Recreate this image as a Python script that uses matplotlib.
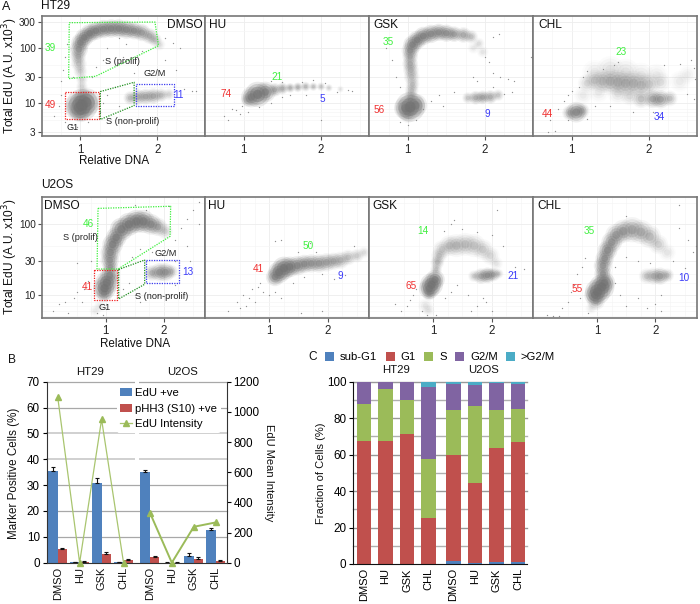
import matplotlib
matplotlib.use("Agg")
import matplotlib.pyplot as plt
import numpy as np
from matplotlib.ticker import NullFormatter, FixedLocator

plt.rcParams['font.family'] = ['Liberation Sans', 'DejaVu Sans']
W, H = 700, 604

# ---------- Panel A: hand-read density clouds (x, EdU, radius px, density) ----------
ht29_dmso_blobs = [(1.02,9.3,11,1.0),(0.98,8.5,9,.9),(1.08,10.5,9,.9),(1.0,7,6,.5),(1.03,13,5,.4),
 (1.02,20,3,.25),(1.02,27,3,.25),(1.0,38,3.5,.3),(0.98,52,4,.4),(0.97,70,4,.5),(0.98,95,5,.7),(1.0,125,5,.8),
 (1.05,155,5,.9),(1.12,185,5,.9),(1.2,205,5,.9),(1.3,220,5,.9),(1.4,225,5,.9),(1.5,225,5,.9),(1.6,215,5,.85),
 (1.7,205,4.5,.8),(1.8,190,4.5,.7),(1.9,165,4,.55),(1.97,140,3.5,.4),(2.03,115,3,.2),
 (1.65,12.5,3.5,.45),(1.75,13,4,.55),(1.85,13.2,4,.6),(1.95,13.5,4,.6),(2.05,14,3.5,.45),(2.15,14.5,3,.25)]
ht29_dmso_stray = [(.65,6),(.72,9),(.75,14),(.8,4.5),(.88,4),(.95,3.8),(1.1,4.5),(1.25,7),(1.3,10),(1.35,14),(1.5,9),(1.45,20),
 (.75,25),(.78,40),(.8,70),(.82,120),(1.2,45),(1.3,60),(1.35,100),(1.5,150),(1.6,120),(1.8,90),(2.1,150),(2.2,125),(2.3,100),
 (2.1,60),(2.25,40),(2.35,18),(2.45,17),(2.5,17),(1.9,40),(1.7,35),(1.15,30),(1.55,70),(.9,30)]
ht29_hu_blobs = [(1.18,14.5,8,1.0),(1.1,13,6,.85),(1.28,16,6,.9),(1.05,11.5,3.5,.45),(1.4,17.5,3.5,.6),(1.5,18.5,3,.55),
 (1.6,19,2.5,.5),(1.7,19.5,2.5,.5),(1.8,20,2.5,.45),(1.9,20,2.2,.4),(2.0,20,2.2,.35),(2.1,19,2,.25),(2.25,18,1.8,.15)]
ht29_hu_stray = [(.75,6),(.8,5),(.85,8),(.9,7.5),(.95,6.5),(.98,9),(1.05,7),(1.2,8.5),(1.35,10),(1.5,13),(1.6,14),(1.35,25),(1.5,24),
 (1.75,24),(1.9,26),(2.05,23),(2.2,16),(2.35,17.5),(2.4,17),(2.0,5),(1.8,14)]
ht29_gsk_blobs = [(1.03,8.6,10,1.0),(.97,8.2,7,.8),(1.1,9.2,7,.8),(1.0,6.5,5,.45),(1.04,13,3.5,.4),(1.05,17,3.5,.4),(1.06,22,3.5,.4),
 (1.05,30,4,.4),(1.04,40,4,.45),(1.03,52,4,.5),(1.03,70,4,.5),(1.03,90,4.5,.65),(1.06,115,5,.85),(1.12,140,5,.9),(1.2,165,5,.9),
 (1.3,180,5,.85),(1.4,192,4.5,.8),(1.5,185,4.5,.8),(1.6,178,4,.7),(1.72,172,4,.6),(1.82,160,3.5,.4),(1.92,120,3,.2),(1.97,85,3,.15),
 (1.85,100,3,.12),(1.78,12.5,3,.35),(1.88,12.6,3.5,.55),(1.97,12.8,3.5,.65),(2.07,13,3.5,.55),(2.17,14,3,.35)]
ht29_gsk_stray = [(.72,100),(.8,60),(.85,30),(.9,20),(1.2,8),(1.3,11),(1.4,14),(1.45,9),(1.6,16),(2.05,55),(2.1,35),(2.2,30),(2.3,28),(2.38,25),
 (2.1,160),(2.18,180),(2.0,70),(2.1,20),(1.9,25),(1.85,30),(2.6,70),(.62,8),(.9,4.5),(1.0,4),(1.1,5),(2.25,15),(2.35,16)]
ht29_chl_blobs = [(1.06,6.9,6,.8),(.98,6.7,4,.5),(1.13,7.3,4,.5),(1.2,23,5,.22),(1.3,26,6,.28),(1.4,25,7,.32),(1.5,25,8,.36),(1.6,24,8,.36),
 (1.7,23,8,.36),(1.8,23,8,.32),(1.9,21,8,.3),(2.0,22,7,.25),(2.15,24,6,.18),(1.6,15,6,.18),(1.75,13.5,5,.22),
 (1.9,12,5,.4),(2.05,12,5,.6),(2.15,11.8,5,.65),(2.27,12.2,4,.4),(2.4,25,6,.1),(2.5,33,5,.08),
 (1.3,36,8,.12),(1.5,40,9,.16),(1.7,36,9,.16),(1.9,32,8,.14),(2.1,32,7,.1),(1.35,16,6,.12),(1.15,14,5,.1)]
ht29_chl_stray = [(.65,6),(.72,5),(.78,3.2),(.7,3),(.82,8),(.9,11),(.95,14),(1.0,17),(1.1,20),(1.15,30),(1.2,38),(1.4,42),(1.55,50),(1.6,55),
 (2.2,50),(2.4,52),(2.55,60),(2.58,44),(2.6,28),(2.5,15),(2.58,12),(1.3,9),(1.5,9),(1.8,7),(2.05,7),(.95,5),(1.2,5.2)]

u2os_dmso_blobs = [(0.98,12.5,7,1.0),(1.02,15,7,1.0),(1.07,19,5.5,.85),(.97,10.5,4.5,.7),(1.08,25,4,.6),(1.07,31,5,.7),(1.08,40,5.5,.8),
 (1.12,52,6,.9),(1.18,65,6,.95),(1.27,85,7,1.0),(1.4,100,7,1.0),(1.53,110,7,.95),(1.65,110,7,.9),(1.78,100,6,.75),(1.9,92,5,.55),(2.02,80,4,.3),
 (1.8,20.5,4,.5),(1.93,21,5,.65),(2.03,21,5,.65),(2.13,21.5,3.5,.4),(.9,7,3,.12),(.82,6,3,.1)]
u2os_dmso_stray = [(.1,6),(.2,7.5),(.3,8),(.35,5.5),(.45,9),(.5,11),(.6,8),(.62,12),(.7,16),(.5,28),(.75,30),(.85,5.5),(.95,5.2),(1.3,12),(1.4,15),(1.5,10),
 (1.6,8),(1.45,35),(1.6,45),(1.8,40),(2.2,60),(2.3,90),(2.4,120),(2.5,160),(2.6,210),(2.4,50),(2.45,30),(2.2,30),(2.6,100),(1.7,160),(1.5,190),(2.1,180),(1.9,10),(2.2,14)]
u2os_hu_blobs = [(1.1,18,5,.8),(1.17,21,6.5,1.0),(1.25,24,7,1.0),(1.35,25,6,.9),(1.48,26,5.5,.75),(1.6,27.5,5,.7),(1.72,28,5,.65),(1.85,28,5,.65),
 (1.98,29,5,.55),(2.1,30,4.5,.5),(2.22,31,4.5,.45),(2.35,34,4,.4),(2.5,36,3.5,.3),(2.62,40,3,.2)]
u2os_hu_stray = [(.45,8),(.5,6.5),(.55,10),(.6,7),(.65,9),(.7,12),(.75,8),(.8,13),(.85,15),(.9,11),(1.0,10),(1.1,11),(1.2,9),(1.4,15),(1.6,18),
 (1.7,55),(1.2,60),(1.1,58),(1.9,20),(2.1,17),(2.3,19),(1.5,40),(1.8,40),(2.45,50),(.3,6),(1.9,6),(1.55,5.5)]
u2os_gsk_blobs = [(.93,12.3,6,.95),(.97,14,7,1.0),(1.03,16.5,5.5,.95),(.93,10.5,3.5,.55),(1.05,23,3,.4),(1.07,29,3.5,.45),(1.1,36,4,.35),
 (1.15,44,5,.3),(1.28,50,6,.32),(1.4,50,7,.35),(1.55,52,7,.32),(1.7,50,7,.3),(1.85,44,6,.28),(1.98,36,5,.22),(2.08,28,3.5,.15),
 (1.7,18.5,3,.3),(1.82,18.5,4,.6),(1.93,19,4,.8),(2.03,19.5,3.5,.6),(2.12,20,2.5,.3),(.87,7,4,.15),(.92,6,3,.12)]
u2os_gsk_stray = [(.35,7.5),(.45,6),(.55,7),(.6,8.5),(.65,10),(.7,12),(.8,6),(.9,5.3),(1.05,5.2),(1.2,9),(1.3,11),(1.4,14),(1.6,10),(1.75,7),(1.9,8),(2.0,6),(1.85,9),
 (1.18,80),(1.3,100),(1.35,115),(1.5,85),(1.75,78),(2.0,70),(2.2,50),(2.4,25),(2.1,160),(2.55,23),(1.65,6)]
u2os_chl_blobs = [(1.01,11.1,8,1.0),(.96,10,6,.9),(1.08,13,8,1.0),(1.13,15,6,.95),(.98,8.3,5,.5),(1.1,20,4.5,.7),(1.1,26,5,.7),(1.13,33,5,.75),
 (1.18,43,5.5,.85),(1.25,56,6,.7),(1.33,71,6.5,.6),(1.45,80,7,.55),(1.6,84,8,.5),(1.75,78,7.5,.45),(1.9,67,7,.42),(2.05,52,5.5,.28),(2.2,40,4.5,.15),
 (1.85,18.5,4,.35),(1.97,18.5,4.5,.45),(2.08,18.5,4.5,.65),(2.2,19,3.5,.4),(.9,6.5,3,.12)]
u2os_chl_stray = [(.15,5.2),(.25,5),(.4,6.5),(.5,8),(.55,11),(.6,14),(.65,20),(.7,9),(.75,25),(.8,33),(.85,5.5),(.35,5),(1.3,15),(1.4,10),(1.5,7),(1.7,9),(1.85,6.5),(2.0,7.5),
 (2.1,6),(1.3,25),(1.5,35),(1.7,30),(2.3,30),(2.5,24),(2.55,60),(2.65,40),(2.4,90),(2.7,50),(2.4,190),(1.9,28),(2.1,10),(1.5,130)]

panel_names = ["DMSO", "HU", "GSK", "CHL"]
ht29_clouds = [(ht29_dmso_blobs, ht29_dmso_stray), (ht29_hu_blobs, ht29_hu_stray), (ht29_gsk_blobs, ht29_gsk_stray), (ht29_chl_blobs, ht29_chl_stray)]
u2os_clouds = [(u2os_dmso_blobs, u2os_dmso_stray), (u2os_hu_blobs, u2os_hu_stray), (u2os_gsk_blobs, u2os_gsk_stray), (u2os_chl_blobs, u2os_chl_stray)]

# gates
ht29_green_x = [.855,1.971,2.017,1.198,.847]; ht29_green_y = [287,295,110,30.8,27.9]
ht29_red_x = [.806,1.236,1.236,.806]; ht29_red_y = [15.8,15.8,5.1,5.1]
ht29_dgreen_x = [1.26,1.70,1.70,1.26]; ht29_dgreen_y = [16.3,24,9.1,5.1]
ht29_blue_x = [1.723,2.219,2.219,1.723]; ht29_blue_y = [22.6,22.6,8.8,8.8]
u2os_green_x = [.868,2.12,2.11,1.213,.851]; u2os_green_y = [168,180,67.6,23.3,23.3]
u2os_red_x = [.805,1.19,1.19,.805]; u2os_red_y = [22.3,22.3,8.4,8.4]
u2os_dgreen_x = [1.224,1.672,1.672,1.224]; u2os_dgreen_y = [23,31.3,14.2,8.8]
u2os_blue_x = [1.695,2.259,2.259,1.695]; u2os_blue_y = [31,31,14.6,14.6]

# ---------- Panel B ----------
b_cats = ["DMSO","HU","GSK","CHL","DMSO","HU","GSK","CHL"]
edu_pos = [35.5,0.1,30.7,0.1,35.0,0.05,2.7,12.5]
edu_err = [1.7,0.1,2.0,0.1,0.7,0.05,0.9,0.8]
phh3_pos = [5.2,0.2,3.4,1.0,2.3,0.05,1.5,0.8]
phh3_err = [0.3,0.3,0.6,0.5,0.3,0.05,0.7,0.3]
edu_intensity = [1100,0,950,0,332,0,238,267]

# ---------- Panel C ----------
c_cats = b_cats
stage_names = ["sub-G1","G1","S","G2/M",">G2/M"]
sub_g1 = [0.1,0.1,0.1,0.1,1.5,0.7,1.1,0.9]
g1 = [67.4,67.4,71.2,24.9,58.3,43.7,62.7,66.0]
s_phase = [20.5,28.3,18.7,32.4,24.7,42.3,20.7,18.1]
g2m = [12.0,4.2,10.0,39.9,14.2,11.6,14.8,13.9]
gt_g2m = [0.0,0.0,0.0,2.7,1.3,1.7,0.7,1.1]
stage_values = [sub_g1,g1,s_phase,g2m,gt_g2m]
stage_colors = ["#4f81bd","#c0504d","#9bbb59","#8064a2","#4bacc6"]

fig = plt.figure(figsize=(W/100, H/100), dpi=100)
def AX(l, t, r, b):
    return fig.add_axes([l/W, 1-b/H, (r-l)/W, (b-t)/H])
def T(x, y, s, size=8.3, color="#111111", ha="center", va="center", **k):
    fig.text(x/W, 1-y/H, s, fontsize=size, color=color, ha=ha, va=va, **k)

dot = "#707070"
def cloud(ax, blobs, stray):
    bx = [b[0] for b in blobs]; by = [b[1] for b in blobs]
    br = np.array([b[2] for b in blobs], float); bd = np.array([b[3] for b in blobs])
    br = np.minimum(1.7*br, br+3)
    for scale, a in [(1.15,.14),(.95,.24),(.7,.38),(.42,.5)]:
        s = (2*br*scale*.72)**2
        rgba = np.zeros((len(bx),4)); rgba[:,:3] = matplotlib.colors.to_rgb(dot); rgba[:,3] = np.clip(bd*a,0,1)
        ax.scatter(bx, by, s=s, c=rgba, linewidths=0, zorder=2)
    ax.scatter([p[0] for p in stray],[p[1] for p in stray], s=.9, c="#909090", linewidths=0, zorder=2)

def style_flow(ax, ylim, xlim, yt, left):
    ax.set_yscale("log"); ax.set_xlim(*xlim); ax.set_ylim(*ylim)
    ax.set_xticks([1,2]); ax.set_xticks([1.5,.75,1.25,1.75,2.25,2.5,.5],minor=True)
    ax.xaxis.set_minor_formatter(NullFormatter())
    ax.yaxis.set_major_locator(FixedLocator(yt)); ax.yaxis.set_minor_locator(FixedLocator([20,50,200,5,6,7,8,15]))
    ax.yaxis.set_major_formatter(plt.FuncFormatter(lambda v,p: f"{v:g}"))
    ax.yaxis.set_minor_formatter(NullFormatter())
    ax.grid(True, which="major", color="#ededed", lw=.6); ax.grid(True, which="minor", color="#f5f5f5", lw=.5)
    ax.set_axisbelow(True)
    ax.tick_params(which="minor", length=0)
    ax.tick_params(axis="x", which="major", length=3, width=.8, color="#555555", labelsize=8.3, pad=2.5, labelcolor="#222222")
    ax.tick_params(axis="y", which="major", length=3 if left else 0, width=.8, color="#555555", labelsize=7.2, pad=1.5, labelcolor="#222222", labelleft=left)
    for sp in ax.spines.values():
        sp.set_color("#777777"); sp.set_linewidth(1.2)

def gate(ax, x, y, c):
    ax.plot(list(x)+[x[0]], list(y)+[y[0]], color=c, lw=.9, ls=(0,(1,1)), zorder=3)

edges = [42, 205, 369.3, 533, 697]
for i, (blobs, stray) in enumerate(ht29_clouds):
    ax = AX(edges[i], 15.7, edges[i+1], 136)
    style_flow(ax, (2.56,384), (.603,2.623), [3,10,30,100,300], i==0)
    cloud(ax, blobs, stray)
    if i==0:
        gate(ax, ht29_green_x, ht29_green_y, "#3cf03c"); gate(ax, ht29_red_x, ht29_red_y, "#f02020")
        gate(ax, ht29_dgreen_x, ht29_dgreen_y, "#1f8f1f"); gate(ax, ht29_blue_x, ht29_blue_y, "#3a3af0")
for i, (blobs, stray) in enumerate(u2os_clouds):
    ax = AX(edges[i], 197.3, edges[i+1], 317.7)
    style_flow(ax, (4.78,241), (-.098,2.712), [10,30,100], i==0)
    cloud(ax, blobs, stray)
    if i==0:
        gate(ax, u2os_green_x, u2os_green_y, "#3cf03c"); gate(ax, u2os_red_x, u2os_red_y, "#f02020")
        gate(ax, u2os_dgreen_x, u2os_dgreen_y, "#1f8f1f"); gate(ax, u2os_blue_x, u2os_blue_y, "#3a3af0")

# Panel A text
T(2,7,"A",9,ha="left"); T(41,6,"HT29",8.6,ha="left"); T(41,185,"U2OS",8.6,ha="left")
T(185,25,"DMSO",8.6); T(218,25,"HU",8.6); T(386,25,"GSK",8.6); T(550,25,"CHL",8.6)
T(62,206,"DMSO",8.6); T(217,206,"HU",8.6); T(385,206,"GSK",8.6); T(549,206,"CHL",8.6)
T(114,161.5,"Relative DNA",8.4); T(135,344,"Relative DNA",8.4)
T(10,76,"Total EdU (A.U. x10$^3$)",8.6,rotation=90); T(10,257,"Total EdU (A.U. x10$^3$)",8.6,rotation=90)
red="#f03030"; grn="#40f040"; blu="#3a3af8"
for x,y,s,c in [(50,48,"39",grn),(50,105,"49",red),(179,95,"11",blu),(277,77,"21",grn),(226,94,"74",red),(322,99,"5",blu),
                (388,42,"35",grn),(379,110,"56",red),(487,114,"9",blu),(621,52,"23",grn),(547,114,"44",red),(659,117,"34",blu),
                (88,224,"46",grn),(87,287,"41",red),(188,272,"13",blu),(308,246,"50",grn),(258,269,"41",red),(340,276,"9",blu),
                (423,231,"14",grn),(411,286,"65",red),(513,276,"21",blu),(589,231,"35",grn),(577,289,"55",red),(684,278,"10",blu)]:
    T(x,y,s,7.2,c)
for x,y,s in [(122,62,"S (prolif)"),(155,74,"G2/M"),(133,121,"S (non-prolif)"),(73,127,"G1"),
              (80,238,"S (prolif)"),(166,254,"G2/M"),(162,296,"S (non-prolif)"),(105,307,"G1")]:
    T(x,y,s,6.6,"#222222")

# ---------- Panel B drawing ----------
gap = 0.2
bx = np.array([i + (gap if i>3 else 0) for i in range(len(b_cats))], float)
axb = AX(46.7, 381.7, 226.7, 562.7)
w = .43
axb.set_xlim(-.5, 7.5+gap); axb.set_ylim(0,70)
axb.set_yticks(range(0,71,10))
for v,c,lw in [(10,"#a8a8a8",.9),(20,"#a8a8a8",.9),(30,"#a8a8a8",.9),(40,"#c8c8c8",1.2),(50,"#c8c8c8",1.2),(60,"#a8a8a8",.9),(70,"#a8a8a8",.9)]:
    axb.axhline(v,color=c,lw=lw,zorder=1,clip_on=False)
axb.axvspan(3.5+gap/2-.1,3.5+gap/2+.1,ymin=35/70,ymax=1.01,color="white",zorder=1.5,lw=0,clip_on=False)
err_kw = dict(ecolor="#111111", elinewidth=.8, capsize=1.5, capthick=.8)
b1 = axb.bar(bx-w/2, edu_pos, w, color=stage_colors[0], yerr=[[0]*8, edu_err], error_kw=err_kw, zorder=2, label="EdU +ve")
b2 = axb.bar(bx+w/2, phh3_pos, w, color=stage_colors[1], yerr=[[0]*8, phh3_err], error_kw=err_kw, zorder=2, label="pHH3 (S10) +ve")
axb.set_xticks(bx); axb.set_xticklabels(b_cats, rotation=90, fontsize=8)
axb.tick_params(axis="x", length=0, pad=3, colors="#111111")
axb.tick_params(axis="y", length=3, width=.8, labelsize=8.4, pad=2)
for k in ("top","right"): axb.spines[k].set_visible(False)
axb.spines["bottom"].set_color("#333333"); axb.spines["left"].set_color("#333333")
axr = axb.twinx(); axr.set_ylim(0,1200); axr.set_yticks(range(0,1201,200))
axr.tick_params(length=3, width=.8, labelsize=8.4, pad=2)
for k in ("top","left","bottom"): axr.spines[k].set_visible(False)
axr.spines["right"].set_color("#333333")
line_c = "#9bbb59"
l1, = axr.plot(bx[:4], edu_intensity[:4], color="#a9c56f", lw=.9, marker="^", ms=4.5, mfc=line_c, mec=line_c, zorder=4, clip_on=False, label="EdU Intensity")
axr.plot(bx[4:], edu_intensity[4:], color=line_c, lw=1.4, marker="^", ms=4.5, mfc=line_c, mec=line_c, zorder=4, clip_on=False)
axr.set_zorder(axb.get_zorder()+1); axr.patch.set_visible(False)
leg = axr.legend(handles=[b1,b2,l1], loc="upper left", borderaxespad=0,
                 frameon=True, facecolor="white", edgecolor="none", framealpha=1, fontsize=8.2, labelspacing=.5,
                 handlelength=1.0, handletextpad=.3, borderpad=.3)
leg.set_bbox_to_anchor((.39,.985), axr.transAxes)
T(8,360,"B",8.6,ha="left"); T(90,372,"HT29",8.2); T(183,372,"U2OS",8.2)
T(14,473,"Marker Positive Cells (%)",8.4,rotation=90); T(269,473,"EdU Mean Intensity",8.0,rotation=270)

# ---------- Panel C drawing ----------
axc = AX(353.3, 381.7, 526.7, 564)
cx = np.array([i + (0.16 if i>3 else 0) for i in range(8)], float)
axc.set_xlim(-.5, 7.56); axc.set_ylim(0,100)
axc.set_yticks(range(0,101,20))
for v in range(10,101,10):
    axc.axhline(v,color="#b0b0b0" if v%20 else "#999999",lw=1.0,zorder=1,clip_on=False)
bottom = np.zeros(8)
handles=[]
for vals,c,n in zip(stage_values,stage_colors,stage_names):
    h = axc.bar(cx, vals, .66, bottom=bottom, color=c, zorder=2, label=n, linewidth=0)
    bottom += np.array(vals); handles.append(h)
axc.set_xticks(cx); axc.set_xticklabels(c_cats, rotation=90, fontsize=8)
axc.tick_params(axis="x", length=0, pad=3); axc.tick_params(axis="y", length=3, width=.8, labelsize=8.4, pad=2)
for k in ("top","right"): axc.spines[k].set_visible(False)
axc.spines["left"].set_color("#111111"); axc.spines["bottom"].set_color("#111111")
fig.legend(handles=handles, loc="center left", bbox_to_anchor=(325/W, 1-357/H), ncol=5, frameon=False, fontsize=8.1,
           columnspacing=.72, handlelength=.8, handleheight=.8, handletextpad=.55, borderaxespad=0, borderpad=0)
T(308,357,"C",8.6,ha="left"); T(396,370,"HT29",8.2); T(484,370,"U2OS",8.2)
T(321,473,"Fraction of Cells (%)",8.0,rotation=90)

fig.savefig("out.png", dpi=100)
